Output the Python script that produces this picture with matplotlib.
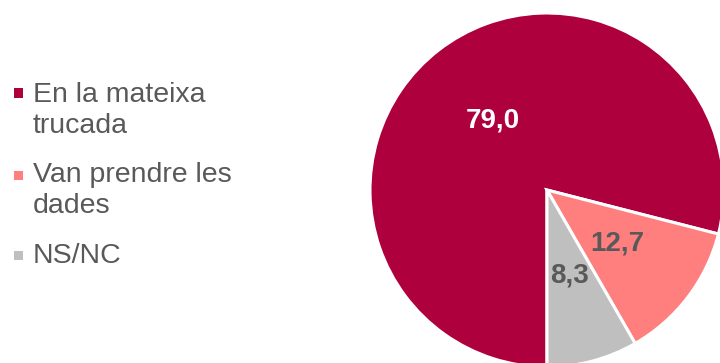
import matplotlib
matplotlib.use("Agg")
import matplotlib.pyplot as plt
from matplotlib.patches import Rectangle

plt.rcParams['font.family'] = ['Liberation Sans', 'DejaVu Sans']

categories = ["En la mateixa\ntrucada", "Van prendre les\ndades", "NS/NC"]
values = [79.0, 12.7, 8.3]
colors = ["#AD003C", "#FF7F7F", "#BFBFBF"]
value_colors = ["white", "#595959", "#595959"]
text_grey = "#595959"

W, H = 720, 363
fig = plt.figure(figsize=(W / 100, H / 100), dpi=100)

# pie centre and radius in pixels; the disc runs past the right and bottom edges
cx, cy, r = 547, 190, 177
ax = fig.add_axes([(cx - r) / W, (H - cy - r) / H, 2 * r / W, 2 * r / H])

wedges, _, autotexts = ax.pie(
    values, colors=colors, startangle=270, counterclock=False,
    radius=1.0, pctdistance=0.5,
    autopct=lambda p: f"{p:.1f}".replace(".", ","),
    wedgeprops=dict(edgecolor="white", linewidth=2.2),
)
for t, c in zip(autotexts, value_colors):
    t.set_color(c)
    t.set_fontsize(20)
    t.set_fontweight("bold")
ax.set_xlim(-1, 1)
ax.set_ylim(-1, 1)
ax.set_aspect("auto")
ax.axis("off")

# hand-placed legend on the left
marker_y = [93, 175, 255]
text_base = [102, 182, 263]
for label, color, my, ty in zip(categories, colors, marker_y, text_base):
    fig.add_artist(Rectangle((14 / W, (H - my - 4.5) / H), 9 / W, 9 / H,
                             transform=fig.transFigure, facecolor=color,
                             edgecolor="none"))
    for i, line in enumerate(label.split("\n")):
        fig.text(33 / W, (H - ty - 31 * i) / H, line, fontsize=20.5,
                 color=text_grey, ha="left", va="baseline")

fig.savefig("out.png", dpi=100)
